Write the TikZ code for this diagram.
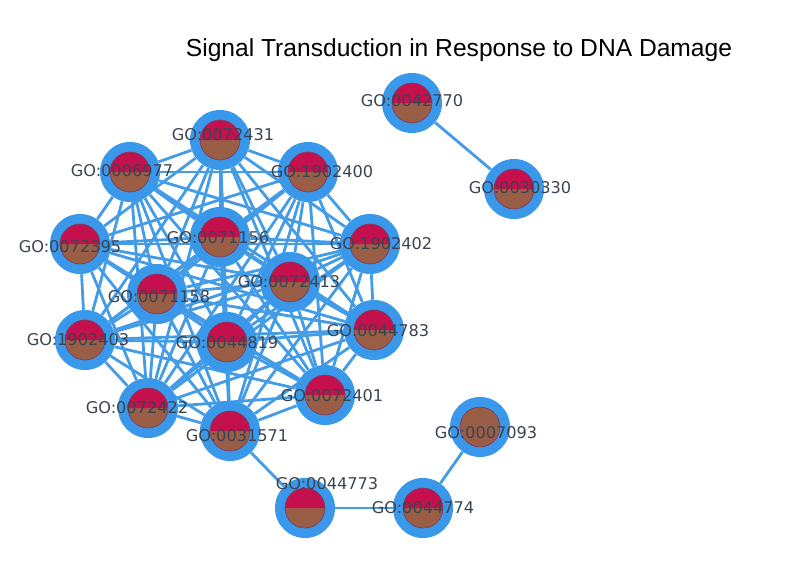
\documentclass[tikz,border=0pt]{standalone}
\usepackage{fontspec}
\setmainfont{DejaVu Sans}
\newfontfamily\titlefont{Liberation Sans}
\usetikzlibrary{backgrounds}

\definecolor{ringblue}{HTML}{3A98EA}
\definecolor{linkblue}{HTML}{449CE6}
\definecolor{termred}{HTML}{C4104C}
\definecolor{termbrown}{HTML}{9A5E47}
\definecolor{termrim}{HTML}{7C3E66}
\definecolor{labelgray}{HTML}{3A4450}

\tikzset{
  goterm/.style={circle, fill=ringblue, minimum size=42.7pt, inner sep=0pt,
    path picture={
      \fill[termbrown] (path picture bounding box.center) circle (14.2pt);
      \fill[termred] ([xshift=14.2pt]path picture bounding box.center) arc (0:180:14.2pt) -- cycle;
      \draw[termrim, line width=0.5pt] (path picture bounding box.center) circle (14.2pt);
    }},
  gotermplain/.style={circle, fill=ringblue, minimum size=42.7pt, inner sep=0pt,
    path picture={
      \fill[termbrown] (path picture bounding box.center) circle (14.2pt);
      \draw[termrim, line width=0.5pt] (path picture bounding box.center) circle (14.2pt);
    }},
  golabel/.style={text=labelgray, font=\fontsize{11.5}{13}\selectfont, inner sep=0pt},
  golink/.style={draw=linkblue, line width=2pt}
}

\begin{document}
\begin{tikzpicture}[x=0.025cm, y=-0.025cm]
\useasboundingbox (0,0) rectangle (800,565);

\node[font=\titlefont\fontsize{17.5}{20}\selectfont] (title) at (459,50) {Signal Transduction in Response to DNA Damage};

% terms of the big cluster
\foreach \t/\x/\y/\lx/\ly in {0072431/220/140/223/135, 0006977/130/172/122/171,
    1902400/308/172/322/172, 0072395/80/244/70/247, 0071156/220/237/218/238,
    1902402/370/244/381/244, 0072413/290/282/289/282, 0071158/157/294/159/297,
    1902403/85/340/78/340, 0044819/227/342/227/343, 0044783/374/330/378/331,
    0072401/325/395/332/396, 0072422/148/408/137/408, 0031571/230/431/237/436}
{
  \node[goterm] (g\t) at (\x,\y) {};
  \node[golabel] (l\t) at (\lx,\ly) {GO:\t};
}

% the other terms
\foreach \t/\x/\y/\lx/\ly in {0042770/412/103/412/101, 0030330/514/189/520/188,
    0044773/305/508/327/484, 0044774/423/508/423/508}
{
  \node[goterm] (g\t) at (\x,\y) {};
  \node[golabel] (l\t) at (\lx,\ly) {GO:\t};
}
\node[gotermplain] (g0007093) at (480,427) {};
\node[golabel] (l0007093) at (486,433) {GO:0007093};

\begin{pgfonlayer}{background}
  \foreach \a [count=\i] in {g0072431,g0006977,g1902400,g0072395,g0071156,g1902402,
      g0072413,g0071158,g1902403,g0044819,g0044783,g0072401,g0072422,g0031571}
  {
    \foreach \b [count=\j] in {g0072431,g0006977,g1902400,g0072395,g0071156,g1902402,
        g0072413,g0071158,g1902403,g0044819,g0044783,g0072401,g0072422,g0031571}
    {
      \ifnum\j>\i \draw[golink] (\a) -- (\b); \fi
    }
  }
  \draw[golink] (g0031571) -- (g0044773);
  \draw[golink] (g0044773) -- (g0044774);
  \draw[golink] (g0044774) -- (g0007093);
  \draw[golink] (g0042770) -- (g0030330);
\end{pgfonlayer}
\end{tikzpicture}
\end{document}
